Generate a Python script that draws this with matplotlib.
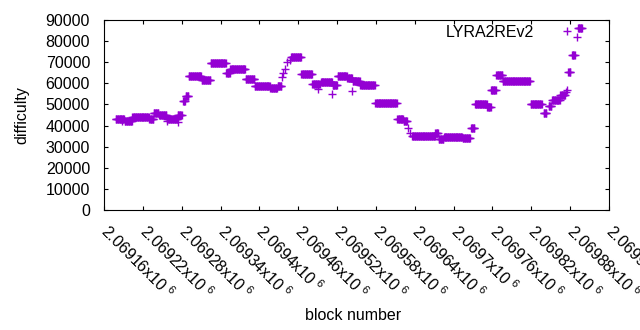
import numpy as np
import matplotlib
matplotlib.use('Agg')
import matplotlib.pyplot as plt
from matplotlib.ticker import FixedLocator, FuncFormatter

plt.rcParams['font.family'] = ['Liberation Sans', 'DejaVu Sans']
plt.rcParams['mathtext.fontset'] = 'custom'
plt.rcParams['mathtext.rm'] = 'Liberation Sans'
plt.rcParams['mathtext.default'] = 'regular'

# plateaus: blocks with the same difficulty (start, end, value)
run_start = [2069178, 2069192, 2069204, 2069230, 2069237, 2069245, 2069258, 2069274,
             2069282, 2069286, 2069291, 2069311, 2069325, 2069349, 2069355, 2069379,
             2069393, 2069417, 2069428, 2069449, 2069465, 2069482, 2069495, 2069513,
             2069521, 2069536, 2069544, 2069556, 2069579, 2069613, 2069623, 2069636,
             2069672, 2069677, 2069685, 2069714, 2069727, 2069733, 2069752, 2069758,
             2069766, 2069776, 2069819, 2069839, 2069847, 2069852, 2069865, 2069877,
             2069883, 2069892]
run_end = [2069191, 2069203, 2069229, 2069236, 2069244, 2069256, 2069273, 2069280,
           2069285, 2069290, 2069310, 2069324, 2069348, 2069354, 2069378, 2069392,
           2069416, 2069427, 2069434, 2069464, 2069481, 2069493, 2069512, 2069520,
           2069535, 2069543, 2069555, 2069578, 2069612, 2069622, 2069628, 2069671,
           2069676, 2069684, 2069713, 2069725, 2069732, 2069751, 2069757, 2069765,
           2069775, 2069818, 2069836, 2069843, 2069851, 2069864, 2069872, 2069880,
           2069887, 2069898]
run_value = [43100, 42300, 44200, 43100, 46000, 45000, 43100, 45000,
             51500, 54000, 63500, 61600, 69500, 65000, 66700, 62100,
             58800, 57800, 58800, 72500, 64500, 59700, 60700, 59200,
             63500, 62600, 61000, 59200, 50700, 43000, 42300, 35100,
             36500, 33600, 34600, 34100, 39000, 50200, 48800, 56900,
             64000, 61100, 50200, 46000, 49300, 52100, 54500, 65400,
             73500, 86300]

# isolated blocks
single_block = [2069188, 2069257, 2069275, 2069435, 2069437, 2069440, 2069443, 2069447,
                2069490, 2069512, 2069543, 2069630, 2069633, 2069873, 2069875, 2069890]
single_value = [42000, 42000, 41700, 63000, 65000, 66800, 70100, 71000,
                57300, 55000, 56400, 38900, 36500, 55800, 57000, 82000]

blocks = list(single_block)
values = list(single_value)
for s, e, v in zip(run_start, run_end, run_value):
    for b in range(s, e + 1):
        blocks.append(b)
        values.append(v)

x_ticks = list(range(2069160, 2069941, 60))
color = '#9400D3'

fig = plt.figure(figsize=(6.4, 3.3), dpi=100)
ax = fig.add_axes([104/640, 1 - 210/330, 505/640, 190/330])

ax.plot(blocks, values, linestyle='none', marker='+', markersize=5.5,
        markeredgewidth=1.0, color=color, label='LYRA2REv2')

ax.set_xlim(2069160, 2069940)
ax.set_ylim(0, 90000)
ax.xaxis.set_major_locator(FixedLocator(x_ticks))
ax.set_yticks(range(0, 90001, 10000))


def fmt_x(v, pos):
    return '%gx10$^{\\ 6}$' % (v / 1e6)


ax.xaxis.set_major_formatter(FuncFormatter(fmt_x))
ax.tick_params(direction='in', length=3, width=0.8, top=True, right=True,
               labelsize=11.5, colors='black')
ax.tick_params(axis='y', pad=10)
for lab in ax.get_xticklabels():
    lab.set_rotation(-45)
    lab.set_ha('left')
    lab.set_va('center')
    lab.set_rotation_mode('anchor')
ax.tick_params(axis='x', pad=13)
for sp in ax.spines.values():
    sp.set_linewidth(0.8)

ax.set_xlabel('block number', fontsize=11.5)
ax.set_ylabel('difficulty', fontsize=11.5, labelpad=12)
ax.xaxis.set_label_coords(0.494, -0.515)

ax.legend(loc='upper right', bbox_to_anchor=(0.949, 0.974), frameon=False,
          markerfirst=False, handlelength=2, handletextpad=1.1,
          borderaxespad=0, borderpad=0, fontsize=11.5)

fig.savefig('out.png', dpi=100)
